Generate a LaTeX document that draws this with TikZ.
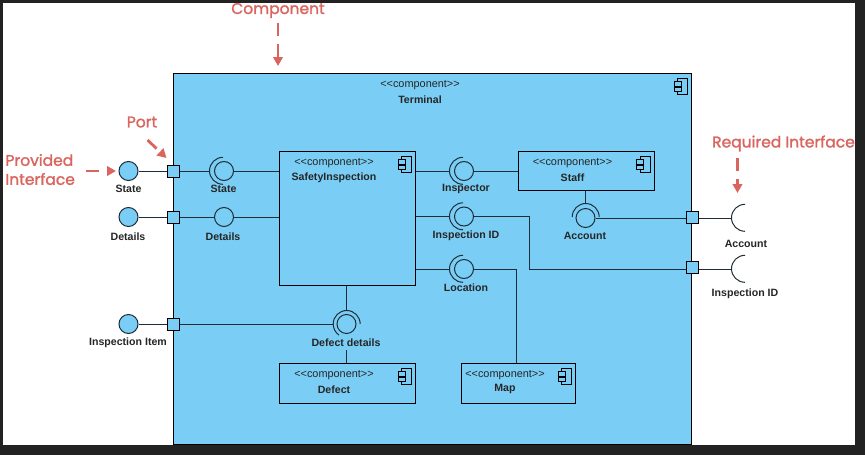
\documentclass[tikz,border=0pt]{standalone}
\usepackage{fontspec}
\usepackage{xcolor}
\setmainfont{Liberation Sans}
\newfontfamily\notefont[FakeBold=1.5]{Poppins}
\usetikzlibrary{arrows.meta}
\definecolor{compblue}{RGB}{122, 206, 245}
\definecolor{notered}{RGB}{217, 101, 94}
\definecolor{framegray}{RGB}{34, 34, 34}
\definecolor{wiregray}{RGB}{30, 45, 55}
\newcommand{\stereotext}{{<}{<}component{>}{>}}
\tikzset{
  compbox/.style={rectangle,draw=black,line width=1pt,fill=compblue,anchor=north west,inner sep=0pt},
  ball/.style={circle,draw=wiregray,line width=1pt,fill=compblue,minimum size=19pt,inner sep=0pt},
  sock/.style={circle,minimum size=27pt,inner sep=0pt},
  portbox/.style={rectangle,draw=black,line width=1pt,fill=compblue,minimum size=12pt,inner sep=0pt},
  wire/.style={draw=wiregray,line width=1pt},
  txt/.style={font=\fontsize{10.6}{12}\selectfont\bfseries,text=black!85,inner sep=0pt,yshift=-.3pt},
  stereo/.style={font=\fontsize{10.9}{12}\selectfont,text=black!85,inner sep=0pt,yshift=-1pt},
  note/.style={font=\notefont\fontsize{15.5}{19}\selectfont,text=notered,inner sep=0pt,align=center,yshift=-1.5pt},
  notearrow/.style={draw=notered,line width=2.8pt,dash pattern=on 12.5pt off 8.5pt,-{Triangle[width=9.5pt,length=9pt]}}
}
\begin{document}
\begin{tikzpicture}[x=1pt, y=-1pt]
\useasboundingbox (0,0) rectangle (865,455);

% Frame
\fill[framegray] (0,0) rectangle (865,455);
\fill[white] (3,3) rectangle (855,445);

% Components
\node[compbox,minimum width=518pt,minimum height=371pt] at (173,73) (terminal) {};
\node[compbox,minimum width=136pt,minimum height=134pt] at (279,151) (safety) {};
\node[compbox,minimum width=136pt,minimum height=39pt] at (517.5,151) (staff) {};
\node[compbox,minimum width=136pt,minimum height=40pt] at (279,363) (defect) {};
\node[compbox,minimum width=114pt,minimum height=40pt] at (461,363) (map) {};

% Stereotypes and names
\node[stereo] at (420,84) (terminal_st) {\stereotext};
\node[txt] at (420,99) (terminal_nm) {Terminal};
\node[stereo] at (334,162) (safety_st) {\stereotext};
\node[txt] at (334,177) (safety_nm) {SafetyInspection};
\node[stereo] at (572.5,162) (staff_st) {\stereotext};
\node[txt] at (572.5,177) (staff_nm) {Staff};
\node[stereo] at (334,374) (defect_st) {\stereotext};
\node[txt] at (334,389) (defect_nm) {Defect};
\node[stereo] at (505,374) (map_st) {\stereotext};
\node[txt] at (505,389) (map_nm) {Map};

% Component icons
\foreach \b in {terminal,safety,staff,defect,map} {
  \begin{scope}[shift={(\b.north east)}]
    \draw[black,line width=.9pt] (-14.5,5) rectangle (-4.5,21);
    \draw[black,fill=compblue,line width=.9pt] (-18,8.5) rectangle (-11,13);
    \draw[black,fill=compblue,line width=.9pt] (-18,14) rectangle (-11,18.5);
  \end{scope}
}

% Ports
\node[portbox] at (173,171) (p_state) {};
\node[portbox] at (173,217) (p_details) {};
\node[portbox] at (173,324) (p_item) {};
\node[portbox] at (692,217) (p_account) {};
\node[portbox] at (692,267) (p_inspid) {};

% Provided interfaces outside
\node[ball] at (128.5,171) (o_state) {};
\node[ball] at (128.5,217) (o_details) {};
\node[ball] at (128.5,324) (o_item) {};

% Interfaces inside
\node[ball] at (224,171) (b_state) {};
\node[ball] at (224,217) (b_details) {};
\node[ball] at (464,171) (b_insp) {};
\node[ball] at (464,216.5) (b_inspid) {};
\node[ball] at (464,269) (b_loc) {};
\node[ball] at (585.5,218) (b_account) {};
\node[ball] at (346.5,324) (b_defect) {};

% Sockets
\node[sock] at (223,171) (s_state) {};
\node[sock] at (463,171) (s_insp) {};
\node[sock] at (463,216.5) (s_inspid) {};
\node[sock] at (463,269) (s_loc) {};
\node[sock] at (585.5,217) (s_account) {};
\node[sock] at (346.5,324) (s_defect) {};
\node[sock] at (745,218) (r_account) {};
\node[sock] at (745,269) (r_inspid) {};

\foreach \s in {s_state,s_insp,s_inspid,s_loc,r_account,r_inspid} {
  \draw[wire] (\s.north) arc[start angle=90,end angle=270,radius=13.5pt];
}
\draw[wire] (s_account.east) arc[start angle=0,end angle=180,radius=13.5pt];
\draw[wire] (s_defect.east) arc[start angle=0,end angle=235,radius=13.5pt];

% Wires
\draw[wire] (o_state) -- (p_state);
\draw[wire] (o_details) -- (p_details);
\draw[wire] (o_item) -- (p_item);
\draw[wire] (p_state) -- (s_state.west);
\draw[wire] (b_state) -- (safety.west |- b_state);
\draw[wire] (p_details) -- (b_details);
\draw[wire] (b_details) -- (safety.west |- b_details);
\draw[wire] (p_item) -- (s_defect.west);
\draw[wire] (safety.south -| b_defect) -- (s_defect.north);
\draw[wire] (b_defect |- defect.north) -- +(0,-13);
\draw[wire] (safety.east |- b_insp) -- (s_insp.west);
\draw[wire] (b_insp) -- (staff.west |- b_insp);
\draw[wire] (safety.east |- b_inspid) -- (s_inspid.west);
\draw[wire] (safety.east |- b_loc) -- (s_loc.west);
\draw[wire] (b_inspid) -- (529,216.5) -- (529,269) -- (p_inspid.west |- r_inspid);
\draw[wire] (b_loc) -- (516.5,269) -- (516.5,363);
\draw[wire] (staff.south -| s_account) -- (s_account.north);
\draw[wire] (b_account) -- (p_account.west |- b_account);
\draw[wire] (p_account.east |- r_account) -- (r_account.west);
\draw[wire] (p_inspid.east |- r_inspid) -- (r_inspid.west);

% Interface labels
\node[txt] at (128.5,189) (l_ostate) {State};
\node[txt] at (128,236) (l_odetails) {Details};
\node[txt] at (128,342) (l_oitem) {Inspection Item};
\node[txt] at (223.5,189) (l_state) {State};
\node[txt] at (223,236) (l_details) {Details};
\node[txt] at (466,189) (l_insp) {Inspector};
\node[txt] at (466,235) (l_inspid) {Inspection ID};
\node[txt] at (466,287) (l_loc) {Location};
\node[txt] at (585,236) (l_acc) {Account};
\node[txt] at (346,342) (l_defect) {Defect details};
\node[txt] at (746,244) (l_racc) {Account};
\node[txt] at (745,293) (l_rinspid) {Inspection ID};

% Notes
\node[note] at (278,9) (n_comp) {Component};
\node[note] at (142,120.5) (n_port) {Port};
\node[note,text width=75pt,align=left] at (43,168) (n_prov) {Provided Interface};
\node[note] at (783.5,142) (n_req) {Required Interface};
\coordinate (e_comp) at (278,66);
\coordinate (e_port) at (166.5,158);
\coordinate (e_prov) at (116,171);
\coordinate (e_req) at (737.5,193);
\draw[notearrow] (278,23) -- (e_comp);
\draw[notearrow] (147.5,140) -- (e_port);
\draw[notearrow] (86,171) -- (e_prov);
\draw[notearrow] (737.5,158) -- (e_req);

\end{tikzpicture}
\end{document}
